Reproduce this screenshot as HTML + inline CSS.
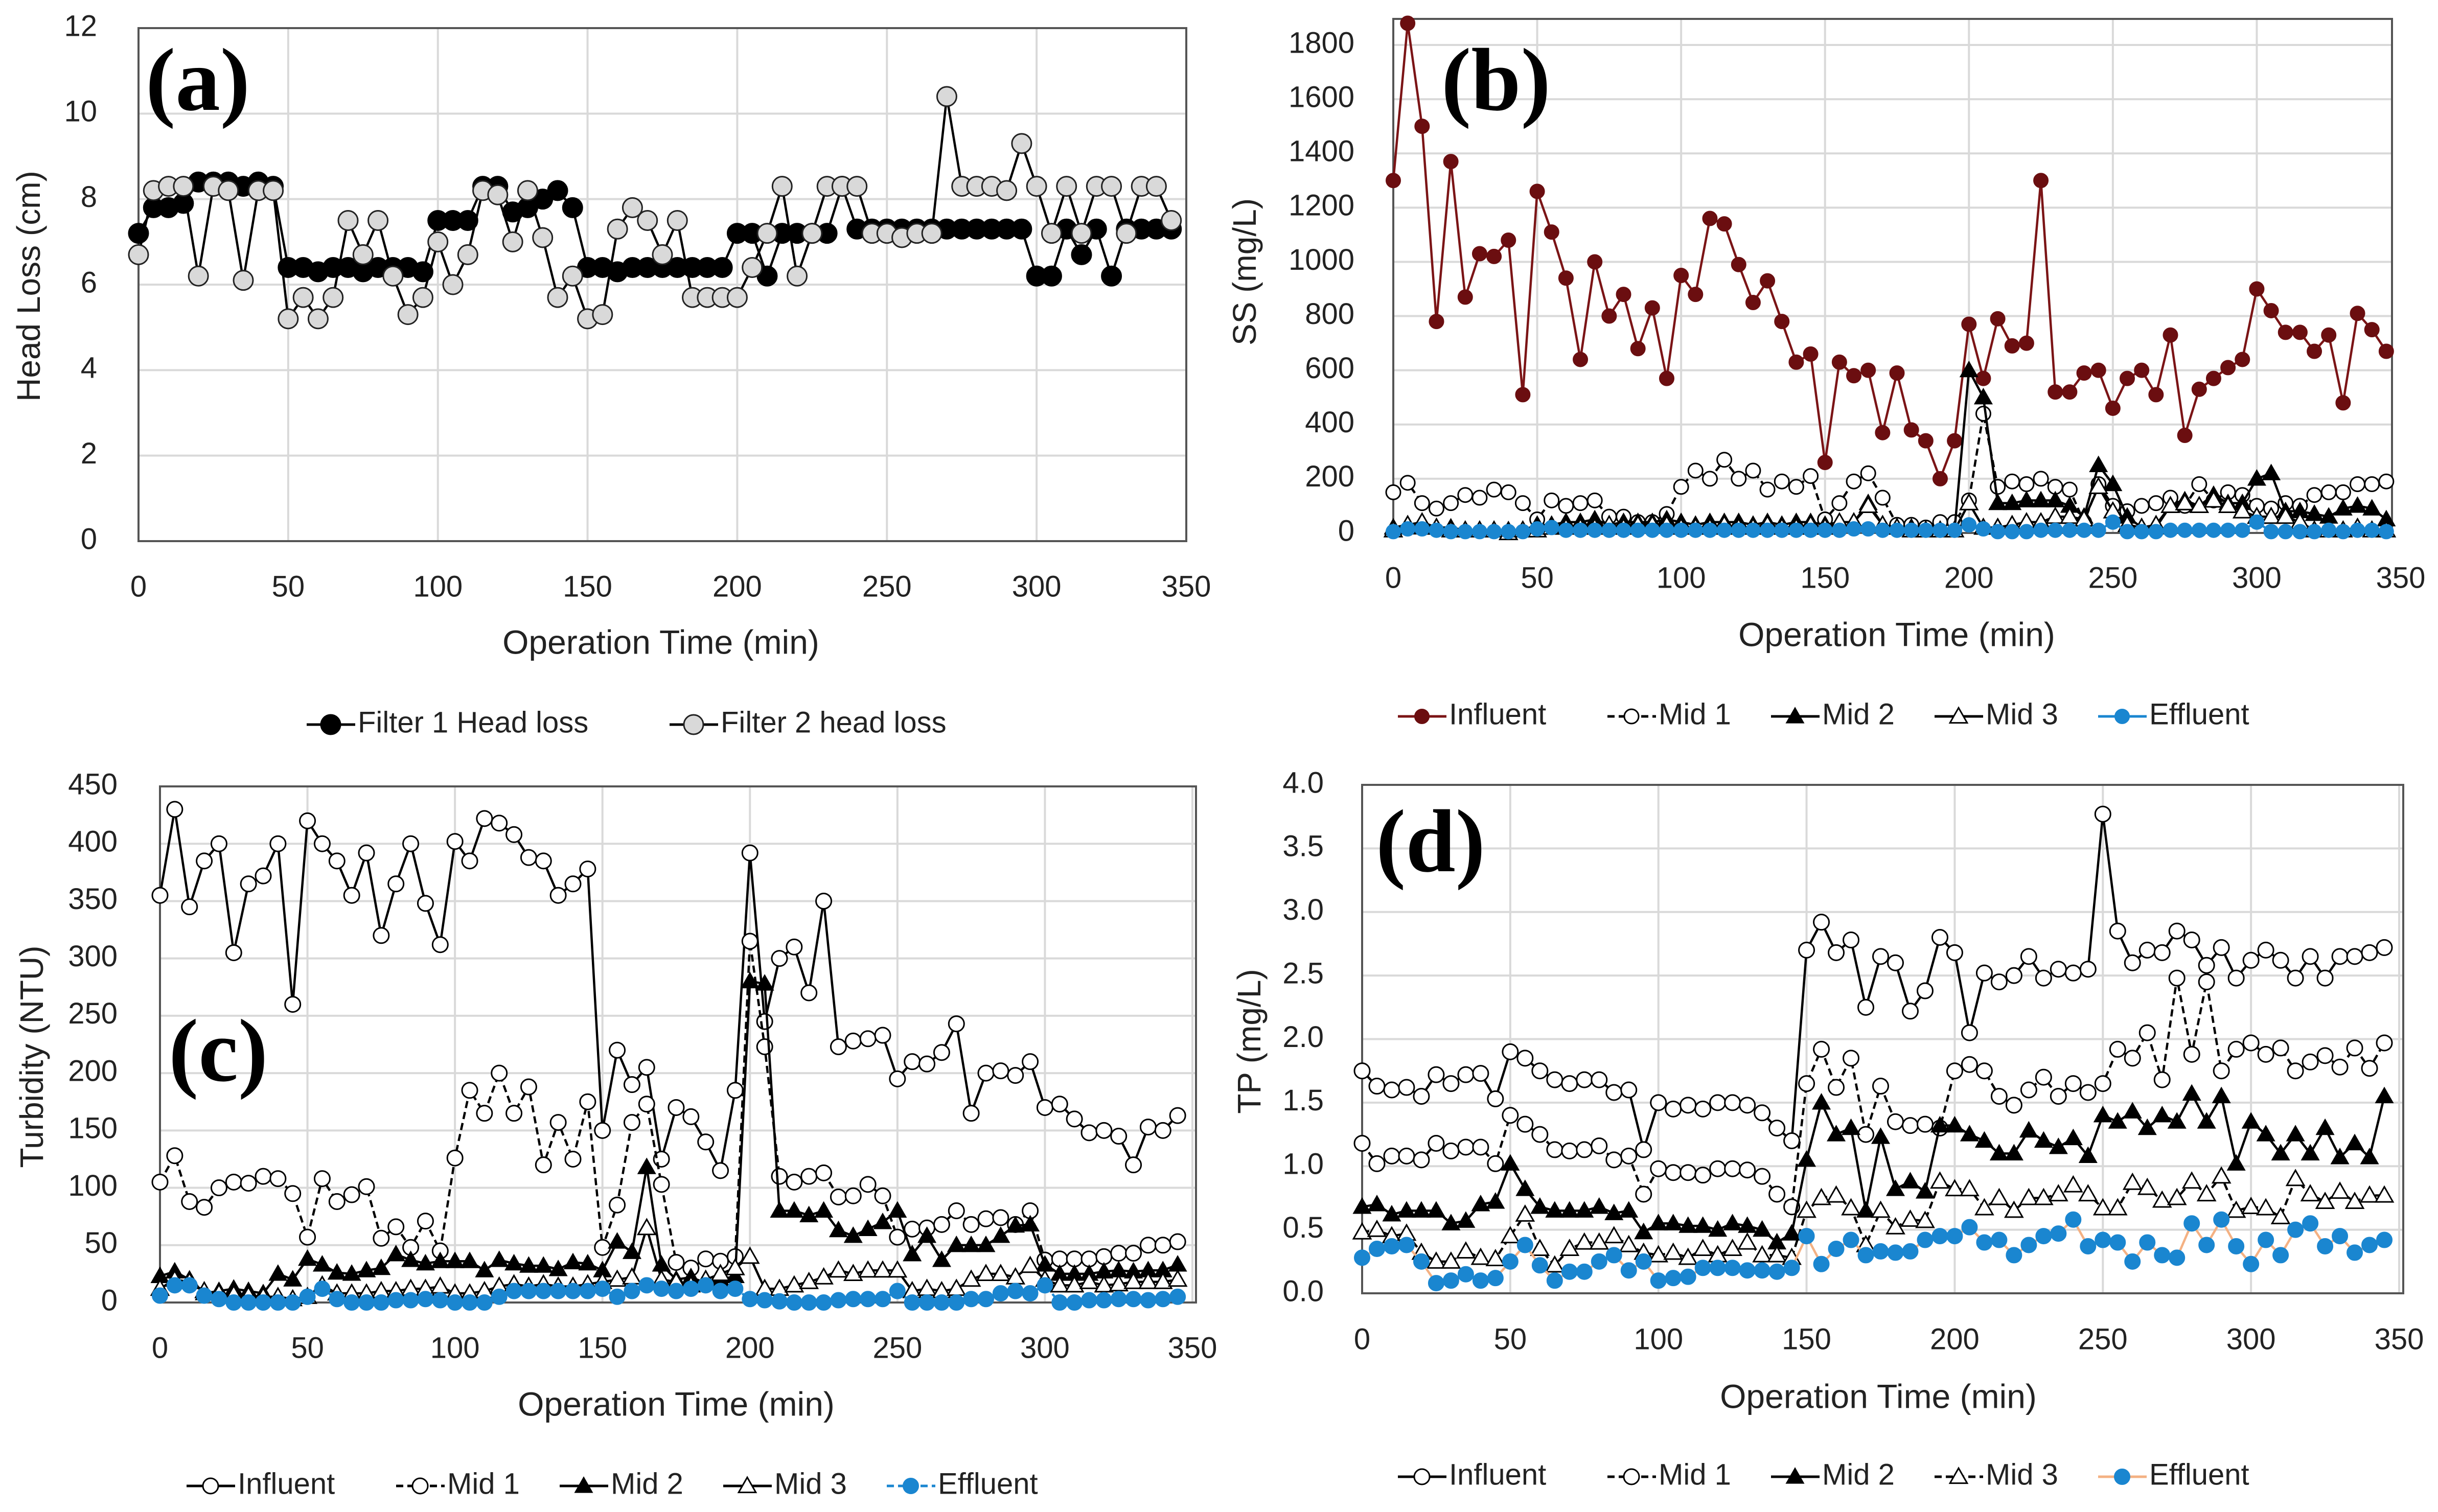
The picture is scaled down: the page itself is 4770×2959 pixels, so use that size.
<!DOCTYPE html>
<html><head><meta charset="utf-8"><style>
html,body{margin:0;padding:0;background:#fff;}
svg{display:block;font-family:"Liberation Sans",sans-serif;}
</style></head>
<body>
<svg id="fig" width="4770" height="2959" viewBox="0 0 4770 2959" xmlns="http://www.w3.org/2000/svg"></svg>
<script>
const times = Array.from({length:70},(_,i)=>i*5);
// Panel (a)
const aF1 = [7.2,7.8,7.8,7.9,8.4,8.4,8.4,8.3,8.4,8.3, 6.4,6.4,6.3,6.4,6.4,6.3,6.4,6.4,6.4,6.3, 7.5,7.5,7.5,8.3,8.3,7.7,7.8,8.0,8.2,7.8, 6.4,6.4,6.3,6.4,6.4,6.4,6.4,6.4,6.4,6.4, 7.2,7.2,6.2,7.2,7.2,7.2,7.2,8.3,7.3,7.3, 7.3,7.3,7.3,7.3,7.3,7.3,7.3,7.3,7.3,7.3, 6.2,6.2,7.3,6.7,7.3,6.2,7.3,7.3,7.3,7.3];
const aF2 = [6.7,8.2,8.3,8.3,6.2,8.3,8.2,6.1,8.2,8.2, 5.2,5.7,5.2,5.7,7.5,6.7,7.5,6.2,5.3,5.7, 7.0,6.0,6.7,8.2,8.1,7.0,8.2,7.1,5.7,6.2, 5.2,5.3,7.3,7.8,7.5,6.7,7.5,5.7,5.7,5.7, 5.7,6.4,7.2,8.3,6.2,7.2,8.3,8.3,8.3,7.2, 7.2,7.1,7.2,7.2,10.4,8.3,8.3,8.3,8.2,9.3, 8.3,7.2,8.3,7.2,8.3,8.3,7.2,8.3,8.3,7.5];
const aTicksY = [0,2,4,6,8,10,12];
const xTicks = [0,50,100,150,200,250,300,350];
// Panel (b)
const bInf = [1300,1880,1500,780,1370,870,1030,1020,1080,510, 1260,1110,940,640,1000,800,880,680,830,570, 950,880,1160,1140,990,850,930,780,630,660, 260,630,580,600,370,590,380,340,200,340, 770,570,790,690,700,1300,520,520,590,600, 460,570,600,510,730,360,530,570,610,640, 900,820,740,740,670,730,480,810,750,670];
const bMid1 = [150,185,110,90,110,140,130,160,150,110, 50,120,100,110,120,60,60,40,40,70, 170,230,200,270,200,230,160,190,170,210, 50,110,190,220,130,30,30,20,40,40, 120,440,170,190,180,200,170,160,40,180, 100,80,100,110,130,100,180,120,150,140, 100,90,110,100,140,150,150,180,180,190];
const bMid2 = [20,30,20,20,20,10,10,10,10,10, 30,30,40,40,50,30,40,40,40,50, 40,30,40,40,40,30,40,30,40,40, 30,40,40,110,30,20,20,10,10,10, 600,500,110,110,120,120,120,100,60,250, 180,60,20,20,100,120,100,140,110,110, 200,220,80,80,70,60,90,100,90,50];
const bMid3 = [10,30,40,20,10,10,10,10,0,10, 10,20,20,20,20,30,20,30,30,30, 20,20,20,30,20,20,30,20,20,30, 20,40,40,100,30,20,10,10,10,10, 110,20,20,30,40,40,60,60,50,170, 80,30,20,30,100,110,100,120,100,80, 60,60,60,40,10,10,10,20,10,10];
const bEff = [5,15,15,10,5,5,5,5,5,5, 15,20,10,10,10,10,10,10,10,10, 10,10,10,10,10,10,10,10,10,10, 10,10,15,15,10,10,10,10,10,10, 30,15,5,5,5,10,10,10,10,10, 40,5,5,5,10,10,10,10,10,10, 40,5,5,5,5,10,5,10,10,5];
const bTicksY = [0,200,400,600,800,1000,1200,1400,1600,1800];
// Panel (c)
const cInf = [355,430,345,385,400,305,365,372,400,260, 420,400,385,355,392,320,365,400,348,312, 402,385,422,418,408,388,385,355,365,378, 150,220,190,205,125,170,162,140,115,185, 392,245,300,310,270,350,223,228,230,233, 195,210,208,218,243,165,200,202,198,210, 170,173,160,148,150,145,120,153,150,163];
const cMid1 = [105,128,88,83,100,105,104,110,108,95, 57,108,88,94,101,56,66,48,71,45, 126,185,165,200,165,188,120,157,125,175, 48,85,157,173,103,35,30,38,36,40, 315,223,110,105,110,113,92,93,103,93, 57,64,65,68,80,68,73,74,68,80, 37,38,38,38,40,43,43,50,50,53];
const cMid2 = [23,27,20,8,10,12,10,8,25,20, 38,33,26,25,28,30,42,37,34,36, 36,36,28,37,34,32,32,29,35,34, 28,53,44,118,33,20,22,17,20,23, 280,278,80,80,76,80,63,58,64,70, 80,42,58,37,50,50,50,58,67,68, 33,25,25,25,27,28,27,28,28,33];
const cMid3 = [12,20,18,10,8,7,6,5,5,3, 5,15,8,8,8,10,10,12,12,14, 8,8,10,14,16,14,16,14,14,16, 18,20,22,65,20,18,15,20,25,30, 40,12,12,15,18,22,28,25,28,28, 28,10,12,10,12,20,25,25,22,32, 20,15,15,18,15,16,18,18,18,20];
const cEff = [6,15,15,6,3,0,0,0,0,0, 5,12,3,0,0,0,2,2,3,2, 0,0,0,5,10,10,10,10,10,10, 12,5,10,15,12,10,12,15,10,12, 3,2,1,0,0,0,2,3,3,3, 10,0,0,0,0,3,3,8,10,8, 15,0,0,2,2,3,3,2,3,5];
const cTicksY = [0,50,100,150,200,250,300,350,400,450];
// Panel (d)
const dInf = [1.75,1.63,1.60,1.62,1.55,1.72,1.65,1.72,1.73,1.53, 1.90,1.85,1.75,1.68,1.65,1.68,1.68,1.58,1.60,1.13, 1.50,1.45,1.48,1.45,1.50,1.50,1.48,1.42,1.30,1.20, 2.70,2.92,2.68,2.78,2.25,2.65,2.60,2.22,2.38,2.80, 2.68,2.05,2.52,2.45,2.50,2.65,2.48,2.55,2.52,2.55, 3.77,2.85,2.60,2.70,2.68,2.85,2.78,2.58,2.72,2.48, 2.62,2.70,2.62,2.48,2.65,2.48,2.65,2.65,2.68,2.72];
const dMid1 = [1.18,1.02,1.08,1.08,1.05,1.18,1.12,1.15,1.15,1.02, 1.40,1.33,1.25,1.13,1.12,1.13,1.16,1.05,1.08,0.78, 0.98,0.95,0.95,0.93,0.98,0.98,0.97,0.92,0.78,0.68, 1.65,1.92,1.62,1.85,1.25,1.63,1.35,1.32,1.33,1.30, 1.75,1.80,1.75,1.55,1.48,1.60,1.70,1.55,1.65,1.58, 1.65,1.92,1.85,2.05,1.68,2.48,1.88,2.45,1.75,1.92, 1.97,1.88,1.93,1.75,1.82,1.87,1.78,1.93,1.77,1.97];
const dMid2 = [0.68,0.70,0.62,0.65,0.65,0.65,0.55,0.57,0.70,0.72, 1.02,0.82,0.68,0.65,0.65,0.65,0.68,0.63,0.65,0.48, 0.55,0.55,0.53,0.53,0.50,0.55,0.53,0.50,0.40,0.47, 1.05,1.50,1.25,1.30,0.65,1.23,0.82,0.88,0.80,1.32, 1.32,1.25,1.20,1.10,1.10,1.28,1.20,1.15,1.22,1.08, 1.40,1.35,1.43,1.30,1.40,1.35,1.57,1.35,1.55,1.02, 1.35,1.25,1.10,1.25,1.10,1.30,1.07,1.18,1.07,1.55];
const dMid3 = [0.48,0.50,0.45,0.47,0.32,0.25,0.25,0.33,0.28,0.27, 0.45,0.62,0.35,0.22,0.35,0.40,0.40,0.45,0.38,0.32, 0.30,0.32,0.28,0.35,0.30,0.35,0.40,0.30,0.30,0.28, 0.65,0.75,0.77,0.67,0.38,0.65,0.52,0.58,0.57,0.88, 0.82,0.82,0.67,0.75,0.65,0.75,0.75,0.78,0.85,0.78, 0.67,0.67,0.87,0.83,0.73,0.75,0.88,0.78,0.92,0.65, 0.68,0.67,0.60,0.90,0.78,0.72,0.80,0.72,0.77,0.77];
const dEff = [0.28,0.35,0.37,0.38,0.25,0.08,0.10,0.15,0.10,0.12, 0.25,0.38,0.22,0.10,0.17,0.17,0.25,0.30,0.18,0.25, 0.10,0.12,0.13,0.20,0.20,0.20,0.18,0.18,0.17,0.20, 0.45,0.23,0.35,0.42,0.30,0.33,0.32,0.33,0.42,0.45, 0.45,0.52,0.40,0.42,0.30,0.38,0.45,0.47,0.58,0.37, 0.42,0.40,0.25,0.40,0.30,0.28,0.55,0.38,0.58,0.37, 0.23,0.42,0.30,0.50,0.55,0.37,0.45,0.32,0.38,0.42];
const dTicksY = [0,0.5,1,1.5,2,2.5,3,3.5,4];

const NS = "http://www.w3.org/2000/svg";
const svg = document.getElementById('fig');
function mk(tag, attrs, parent, name, inter) {
  const e = document.createElementNS(NS, tag);
  for (const k in attrs) e.setAttribute(k, attrs[k]);
  
  
  (parent || svg).appendChild(e);
  return e;
}
function marker(g, type, x, y, s, name) {
  let e;
  if (type === 'circle') {
    e = mk('circle', {cx:x, cy:y, r:s.r, fill:s.fill, stroke:s.mstroke, 'stroke-width':s.msw}, g, name, false);
  } else {
    const r = s.r * 1.2;
    e = mk('polygon', {points:`${x},${y-r} ${x-r},${y+r*0.75} ${x+r},${y+r*0.75}`, fill:s.fill, stroke:s.mstroke, 'stroke-width':s.msw}, g, name, false);
  }
  return e;
}
function panel(P) {
  const g = mk('g', {}, svg, 'panel-' + P.id, false);
  const xs = v => P.x0 + (v / 350) * (P.x350 - P.x0);
  const ys = v => P.y0 - (v - P.ymin) / (P.ymax - P.ymin) * (P.y0 - P.yTop);
  // gridlines
  P.yticks.forEach(t => {
    const l = mk('line', {x1:P.boxL, x2:P.boxR, y1:ys(t), y2:ys(t), stroke:'#d9d9d9', 'stroke-width':4}, g, 'y-gridline', false);
    const tx = mk('text', {x:P.ylabX, y:ys(t), 'text-anchor':'end', 'dominant-baseline':'middle', 'font-size':58, fill:'#222'}, g, 'y-tick-label', false);
    tx.textContent = P.fmt(t);
  });
  xTicks.forEach(t => {
    if (xs(t) < P.boxR - 5 && xs(t) > P.boxL + 5) mk('line', {x1:xs(t), x2:xs(t), y1:P.boxT, y2:P.y0, stroke:'#d9d9d9', 'stroke-width':4}, g, 'x-gridline', false);
    const tx = mk('text', {x:xs(t), y:P.xlabY, 'text-anchor':'middle', 'dominant-baseline':'middle', 'font-size':58, fill:'#222'}, g, 'x-tick-label', false);
    tx.textContent = t;
  });
  mk('rect', {x:P.boxL, y:P.boxT, width:P.boxR-P.boxL, height:P.y0-P.boxT, fill:'none', stroke:'#555', 'stroke-width':4}, g, 'plot-area', false);
  // series
  P.series.forEach(s => {
    const sg = mk('g', {}, g, 'series-' + s.key, false);
    const pts = s.data.map((v, i) => `${xs(times[i])},${ys(v)}`).join(' ');
    const pl = mk('polyline', {points:pts, fill:'none', stroke:s.line, 'stroke-width':s.lw||4.5, 'stroke-dasharray':s.dash||'none'}, sg, 'line-' + s.key, false);
    s.data.forEach((v, i) => marker(sg, s.type, xs(times[i]), ys(v), s, 'point-' + s.key));
  });
  // titles
  const yt = mk('text', {x:P.ytX, y:P.ytY, 'text-anchor':'middle', 'font-size':64, fill:'#222', transform:`rotate(-90 ${P.ytX} ${P.ytY})`, 'dominant-baseline':'middle'}, g, 'y-axis-title', false);
  yt.textContent = P.ytitle;
  const xt = mk('text', {x:P.xtX, y:P.xtY, 'text-anchor':'middle', 'dominant-baseline':'middle', 'font-size':66, fill:'#222'}, g, 'x-axis-title', false);
  xt.textContent = 'Operation Time (min)';
  const pl = mk('text', {x:P.plX, y:P.plY, 'font-size':175, 'font-weight':'bold', 'font-family':'"Liberation Serif",serif', fill:'#000'}, g, 'panel-label', false);
  pl.textContent = '(' + P.id + ')';
  // legend
  const lg = mk('g', {}, g, 'legend', false);
  let lx = P.legX;
  P.series.forEach(s => {
    const eg = mk('g', {}, lg, 'legend-entry', true);
    mk('line', {x1:lx, x2:lx+95, y1:P.legY, y2:P.legY, stroke:s.line, 'stroke-width':5, 'stroke-dasharray':s.dash||'none'}, eg, 'legend-line', false);
    marker(eg, s.type, lx+47, P.legY, s, 'legend-marker');
    const t = mk('text', {x:lx+100, y:P.legY, 'dominant-baseline':'middle', 'font-size':58, fill:'#222'}, eg, 'legend-label', false);
    t.textContent = s.label;
    lx += 100 + s.label.length * 30 + P.legGap;
  });
}
const black = '#000', wht = '#fff';
panel({id:'a', x0:271, x350:2321, y0:1059, yTop:55, ymin:0, ymax:12, boxL:271, boxR:2321, boxT:55,
  yticks:aTicksY, fmt:t=>t, ylabX:190, xlabY:1152, ytitle:'Head Loss (cm)', ytX:61, ytY:560, xtX:1293, xtY:1262,
  plX:285, plY:215, legX:600, legY:1418, legGap:70,
  series:[
   {key:'filter1', label:'Filter 1 Head loss', data:aF1, type:'circle', r:19, fill:black, mstroke:black, msw:3, line:black},
   {key:'filter2', label:'Filter 2 head loss', data:aF2, type:'circle', r:19, fill:'#d9d9d9', mstroke:'#222', msw:3, line:black}]});
panel({id:'b', x0:2726, x350:4697, y0:1043, yTop:88, ymin:0, ymax:1800, boxL:2726, boxR:4680, boxT:37,
  yticks:bTicksY, fmt:t=>t, ylabX:2650, xlabY:1135, ytitle:'SS (mg/L)', ytX:2440, ytY:532, xtX:3711, xtY:1247,
  plX:2820, plY:215, legX:2735, legY:1402, legGap:70,
  series:[
   {key:'influent', label:'Influent', data:bInf, type:'circle', r:14, fill:'#6b0e10', mstroke:'#6b0e10', msw:2, line:'#7b1416'},
   {key:'mid1', label:'Mid 1', data:bMid1, type:'circle', r:14, fill:wht, mstroke:black, msw:3, line:black, dash:'14,8'},
   {key:'mid2', label:'Mid 2', data:bMid2, type:'tri', r:14, fill:black, mstroke:black, msw:2, line:black},
   {key:'mid3', label:'Mid 3', data:bMid3, type:'tri', r:14, fill:wht, mstroke:black, msw:3, line:black},
   {key:'effluent', label:'Effluent', data:bEff, type:'circle', r:14, fill:'#1a86d0', mstroke:'#1a86d0', msw:2, line:'#1a86d0'}]});
panel({id:'c', x0:313, x350:2333, y0:2549, yTop:1539, ymin:0, ymax:450, boxL:313, boxR:2340, boxT:1539,
  yticks:cTicksY, fmt:t=>t, ylabX:230, xlabY:2642, ytitle:'Turbidity (NTU)', ytX:67, ytY:2068, xtX:1323, xtY:2753,
  plX:330, plY:2115, legX:365, legY:2908, legGap:70,
  series:[
   {key:'influent', label:'Influent', data:cInf, type:'circle', r:15, fill:wht, mstroke:black, msw:3, line:black},
   {key:'mid1', label:'Mid 1', data:cMid1, type:'circle', r:15, fill:wht, mstroke:black, msw:3, line:black, dash:'14,8'},
   {key:'mid2', label:'Mid 2', data:cMid2, type:'tri', r:14, fill:black, mstroke:black, msw:2, line:black},
   {key:'mid3', label:'Mid 3', data:cMid3, type:'tri', r:14, fill:wht, mstroke:black, msw:3, line:black},
   {key:'effluent', label:'Effluent', data:cEff, type:'circle', r:15, fill:'#1a86d0', mstroke:'#1a86d0', msw:2, line:'#1a86d0', dash:'14,8'}]});
panel({id:'d', x0:2665, x350:4694, y0:2531, yTop:1536, ymin:0, ymax:4, boxL:2665, boxR:4702, boxT:1536,
  yticks:dTicksY, fmt:t=>t.toFixed(1), ylabX:2590, xlabY:2625, ytitle:'TP (mg/L)', ytX:2449, ytY:2038, xtX:3675, xtY:2738,
  plX:2692, plY:1705, legX:2735, legY:2890, legGap:70,
  series:[
   {key:'influent', label:'Influent', data:dInf, type:'circle', r:15, fill:wht, mstroke:black, msw:3, line:black},
   {key:'mid1', label:'Mid 1', data:dMid1, type:'circle', r:15, fill:wht, mstroke:black, msw:3, line:black, dash:'14,8'},
   {key:'mid2', label:'Mid 2', data:dMid2, type:'tri', r:14, fill:black, mstroke:black, msw:2, line:black},
   {key:'mid3', label:'Mid 3', data:dMid3, type:'tri', r:14, fill:wht, mstroke:black, msw:3, line:black, dash:'14,8'},
   {key:'effluent', label:'Effluent', data:dEff, type:'circle', r:15, fill:'#1a86d0', mstroke:'#1a86d0', msw:2, line:'#f4b183'}]});
</script>
</body></html>
